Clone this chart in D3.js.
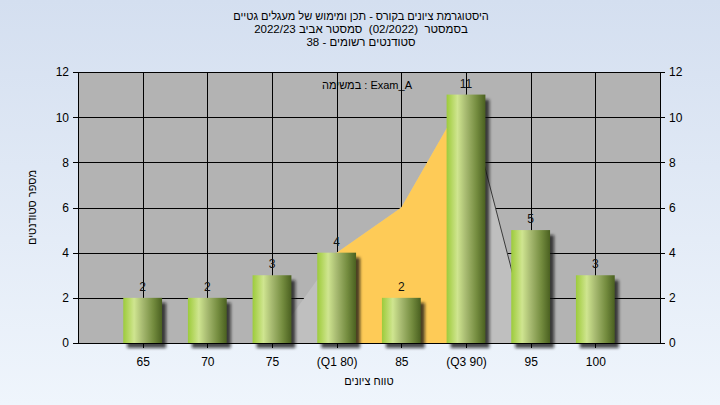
<!DOCTYPE html>
<html>
<head>
<meta charset="utf-8">
<script src="https://cdn.jsdelivr.net/npm/d3@7"></script>
<style>
  html, body { margin: 0; padding: 0; }
  svg { display: block; font-family: "Liberation Sans", Arial, "DejaVu Sans", sans-serif; }
  .pre { white-space: pre; }
</style>
</head>
<body>
<svg id="chart" width="720" height="405"></svg>
<script>
// ---- data ----
const categories = ["65", "70", "75", "(Q1 80)", "85", "(Q3 90)", "95", "100"];
const counts = [2, 2, 3, 4, 2, 11, 5, 3];
const distribution = [0, 0, 0, 4, 6, 11, 0, 0];
const yTicks = [0, 2, 4, 6, 8, 10, 12];
const q1Category = "(Q1 80)";
const q3Category = "(Q3 90)";
const titleLines = [
  "היסטוגרמת ציונים בקורס - תכן ומימוש של מעגלים גטיים",
  "בסמסטר  (02/2022)  סמסטר אביב 2022/23",
  "סטודנטים רשומים - 38"
];
const legendText = "במשימה : Exam_A";
const xTitle = "טווח ציונים";
const yTitle = "מספר סטודנטים";

// ---- layout ----
const W = 720, H = 405;
const plot = { left: 78, right: 660, top: 72, bottom: 343 };

const svg = d3.select("#chart");
const defs = svg.append("defs");

const bg = defs.append("linearGradient").attr("id", "bgGrad")
  .attr("x1", 0).attr("y1", 0).attr("x2", 0).attr("y2", 1);
bg.append("stop").attr("offset", "0%").attr("stop-color", "#d4dff0");
bg.append("stop").attr("offset", "100%").attr("stop-color", "#eff5fc");

const barGrad = defs.append("linearGradient").attr("id", "barGrad")
  .attr("x1", 0).attr("y1", 0).attr("x2", 1).attr("y2", 0);
[["0%", "#9ccb3c"], ["12%", "#b3d65e"], ["28%", "#cfe590"], ["50%", "#a6b970"], ["78%", "#738b3e"], ["100%", "#4a6020"]]
  .forEach(([o, c]) => barGrad.append("stop").attr("offset", o).attr("stop-color", c));

const blur = defs.append("filter").attr("id", "shadow")
  .attr("x", "-50%").attr("y", "-50%").attr("width", "200%").attr("height", "200%");
blur.append("feGaussianBlur").attr("stdDeviation", 1.8);

svg.append("rect").attr("width", W).attr("height", H).attr("fill", "url(#bgGrad)");

// scales
const x = d3.scalePoint().domain(categories).range([plot.left, plot.right]).padding(1);
const y = d3.scaleLinear().domain([0, 12]).range([plot.bottom, plot.top]);
const step = x.step();
const barW = step * 0.6;

// plot background
svg.append("rect")
  .attr("x", plot.left).attr("y", plot.top)
  .attr("width", plot.right - plot.left).attr("height", plot.bottom - plot.top)
  .attr("fill", "#b3b3b3");

// gridlines
const grid = svg.append("g").attr("stroke", "#000").attr("stroke-width", 1).attr("shape-rendering", "crispEdges");
yTicks.forEach(t => {
  grid.append("line").attr("x1", plot.left).attr("x2", plot.right)
    .attr("y1", Math.round(y(t)) + 0.5).attr("y2", Math.round(y(t)) + 0.5);
});
categories.forEach(c => {
  grid.append("line").attr("y1", plot.top).attr("y2", plot.bottom)
    .attr("x1", Math.round(x(c)) + 0.5).attr("x2", Math.round(x(c)) + 0.5);
});

// distribution area
const area = d3.area()
  .x((d, i) => x(categories[i]))
  .y0(y(0))
  .y1(d => y(d));
svg.append("path").datum(distribution).attr("d", area).attr("fill", "#bfbfbf");

defs.append("clipPath").attr("id", "iqr").append("rect")
  .attr("x", x(q1Category)).attr("y", plot.top)
  .attr("width", x(q3Category) - x(q1Category)).attr("height", plot.bottom - plot.top);
svg.append("path").datum(distribution).attr("d", area)
  .attr("fill", "#fecb57").attr("clip-path", "url(#iqr)");

// descending edge line after Q3
const q3i = categories.indexOf(q3Category);
const edge = [q3i, q3i + 1];
svg.append("path")
  .attr("d", d3.line().x(i => x(categories[i])).y(i => y(distribution[i]))(edge))
  .attr("fill", "none").attr("stroke", "#3a3a3a").attr("stroke-width", 1);

// bars
const bars = svg.append("g");
bars.selectAll("rect.shadow").data(counts).join("rect")
  .attr("class", "shadow")
  .attr("x", (d, i) => x(categories[i]) - barW / 2 + 4)
  .attr("y", d => y(d) + 5)
  .attr("width", barW)
  .attr("height", d => y(0) - y(d))
  .attr("fill", "rgba(20,20,20,0.75)")
  .attr("filter", "url(#shadow)");
bars.selectAll("rect.bar").data(counts).join("rect")
  .attr("class", "bar")
  .attr("x", (d, i) => x(categories[i]) - barW / 2)
  .attr("y", d => y(d))
  .attr("width", barW)
  .attr("height", d => y(0) - y(d))
  .attr("fill", "url(#barGrad)");

// value labels
svg.append("g").selectAll("text").data(counts).join("text")
  .attr("x", (d, i) => x(categories[i]))
  .attr("y", d => y(d) - 7)
  .attr("text-anchor", "middle")
  .attr("font-size", 12)
  .attr("fill", "#111")
  .text(d => d);

// axes
const axL = svg.append("g").attr("transform", `translate(${plot.left},0)`)
  .call(d3.axisLeft(y).tickValues(yTicks).tickSize(5).tickSizeOuter(0).tickPadding(4));
const axR = svg.append("g").attr("transform", `translate(${plot.right},0)`)
  .call(d3.axisRight(y).tickValues(yTicks).tickSize(5).tickSizeOuter(0).tickPadding(4));
const axB = svg.append("g").attr("transform", `translate(0,${plot.bottom})`)
  .call(d3.axisBottom(x).tickSize(5).tickSizeOuter(0).tickPadding(9));
[axL, axR, axB].forEach(g => {
  g.attr("font-family", null).attr("font-size", 12);
  g.selectAll("path, line").attr("stroke", "#000").attr("shape-rendering", "crispEdges");
  g.selectAll("text").attr("fill", "#000");
});

// titles
const title = svg.append("g").attr("fill", "#000").attr("text-anchor", "middle");
titleLines.forEach((t, i) => {
  title.append("text").attr("class", "pre").attr("x", 361).attr("y", 20 + i * 13)
    .attr("font-size", i === 0 ? 11 : 11.5).text(t);
});

svg.append("text").attr("x", (plot.left + plot.right) / 2 - 2).attr("y", 89)
  .attr("text-anchor", "middle").attr("font-size", 11).attr("fill", "#000")
  .text(legendText);

svg.append("text").attr("x", (plot.left + plot.right) / 2).attr("y", 385)
  .attr("text-anchor", "middle").attr("font-size", 11).attr("fill", "#000")
  .text(xTitle);

svg.append("text")
  .attr("transform", `translate(36,${(plot.top + plot.bottom) / 2}) rotate(-90)`)
  .attr("text-anchor", "middle").attr("font-size", 11).attr("fill", "#000")
  .text(yTitle);
</script>
</body>
</html>
